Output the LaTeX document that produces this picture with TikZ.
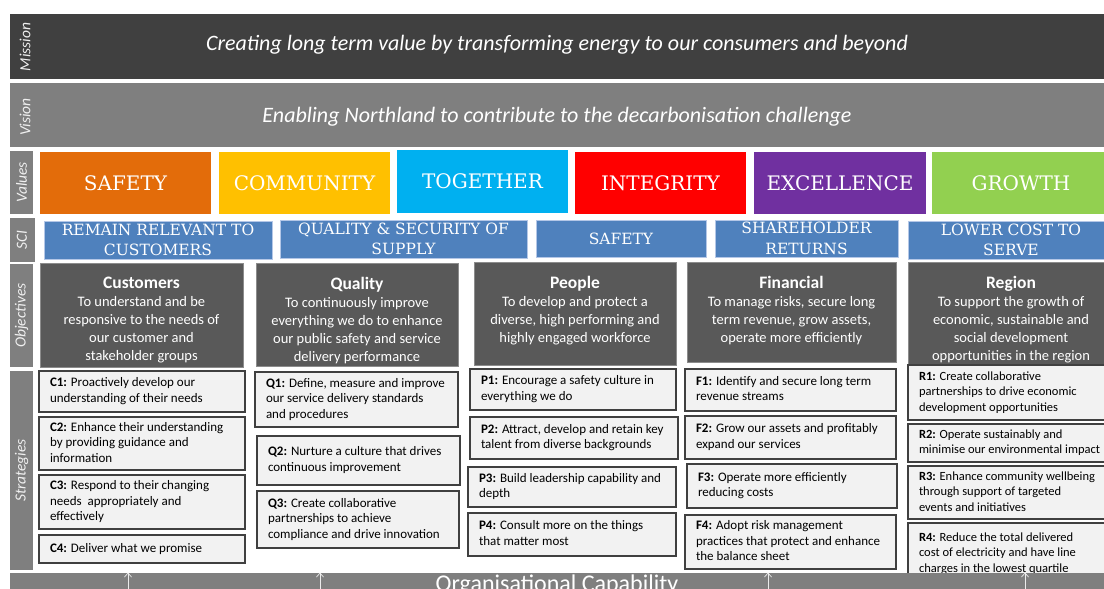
\documentclass[tikz,border=0pt]{standalone}
\usepackage{fontspec}
\setmainfont{Carlito}
\newfontfamily\slabfont{DejaVu Serif}
\usetikzlibrary{arrows.meta}
\definecolor{missionc}{HTML}{404040}
\definecolor{visionc}{HTML}{7F7F7F}
\definecolor{lblc}{HTML}{7F7F7F}
\definecolor{vsafety}{HTML}{E36C0A}
\definecolor{vcommunity}{HTML}{FFC000}
\definecolor{vtogether}{HTML}{00B0F0}
\definecolor{vintegrity}{HTML}{FF0000}
\definecolor{vexcellence}{HTML}{7030A0}
\definecolor{vgrowth}{HTML}{92D050}
\definecolor{scic}{HTML}{4F81BD}
\definecolor{scib}{HTML}{B4C7E7}
\definecolor{objc}{HTML}{595959}
\definecolor{objb}{HTML}{8C8C8C}
\definecolor{stratfill}{HTML}{F2F2F2}
\definecolor{stratline}{HTML}{404040}
\tikzset{
  boxnw/.style={anchor=north west, inner sep=0pt, outer sep=0pt},
  band/.style={boxnw, text=white, font=\fontsize{22}{26}\selectfont\itshape},
  lblbox/.style={boxnw, fill=lblc},
  lbltext/.style={rotate=90, text=white!88!gray, inner sep=0pt, font=\fontsize{15.5}{17}\selectfont\itshape},
  valbox/.style={boxnw, text=white, font=\slabfont\fontsize{20}{24}\selectfont},
  scibox/.style={boxnw, fill=scic, draw=scib, line width=1pt, text=white, align=center, font=\slabfont\fontsize{15.5}{20.5}\selectfont},
  objbox/.style={boxnw, fill=objc, draw=objb, line width=0.8pt, text=white},
  stratbox/.style={boxnw, fill=stratfill, draw=stratline, line width=1.3pt, inner xsep=11pt, inner ysep=0pt, font=\fontsize{13}{15.5}\selectfont},
  upar/.style={draw=white!85!gray, line width=0.7pt, -{Straight Barb[length=4pt,width=7pt]}}
}
\newcommand\valnode[7]{\node[valbox, fill=#6, minimum width=#4, minimum height=#5] (#1) at (#2,#3) {#7};}
\newcommand\scinode[6]{\node[scibox, minimum width=#4, minimum height=#5] (#1) at (#2,#3) {#6};}
\newcommand\objnode[7]{\node[objbox, minimum width=#4, minimum height=#5] (#1) at (#2,#3)
  {\parbox[c][#5pt][t]{\dimexpr#4pt-6pt\relax}{\centering\fontsize{14.5}{18}\selectfont\vspace*{14.5pt}{\bfseries\fontsize{17.5}{18}\selectfont #6}\\#7\par}};}
\newcommand\stratnode[6]{\node[stratbox, minimum width=#4, minimum height=#5] (#1) at (#2,#3)
  {\parbox{\dimexpr#4pt-22pt\relax}{\begin{tabular}{@{}l@{}}#6\end{tabular}}};}
\newcommand\stratnodeR[6]{\node[stratbox, minimum width=#4, minimum height=#5] (#1) at (#2,#3)
  {\parbox{\dimexpr#4pt-22pt\relax}{\fontsize{12.5}{15.5}\selectfont\begin{tabular}{@{}l@{}}#6\end{tabular}}};}
\begin{document}
\begin{tikzpicture}[x=1pt,y=-1pt]
\useasboundingbox (0,0) rectangle (1104,589);
\clip (0,0) rectangle (1104,589);
\fill[white] (0,0) rectangle (1104,589);
% mission and vision bands
\node[band, fill=missionc, minimum width=1094, minimum height=65, text depth=8pt] (mission) at (10,14) {Creating long term value by transforming energy to our consumers and beyond};
\node[band, fill=visionc, minimum width=1094, minimum height=64, text depth=0pt] (vision) at (10,83) {Enabling Northland to contribute to the decarbonisation challenge};
\node[lbltext] (lmission) at (25,47) {Mission};
\node[lbltext] (lvision) at (25,117) {Vision};
% label boxes
\node[lblbox, minimum width=23, minimum height=63] (bvalues) at (10,151) {};
\node[lbltext] (lvalues) at (21.5,182.5) {Values};
\node[lblbox, minimum width=25, minimum height=44] (bsci) at (10,218) {};
\node[lbltext] (lsci) at (22,240) {SCI};
\node[lblbox, minimum width=23, minimum height=103] (bobj) at (10,264) {};
\node[lbltext] (lobj) at (21.5,315.5) {Objectives};
\node[lblbox, minimum width=23, minimum height=199] (bstrat) at (10,371) {};
\node[lbltext] (lstrat) at (21.5,470.5) {Strategies};
% values
\valnode{safety}{40}{152}{171}{62}{vsafety}{SAFETY}
\valnode{community}{219}{152}{171}{62}{vcommunity}{COMMUNITY}
\valnode{together}{397}{150}{171}{63}{vtogether}{TOGETHER}
\valnode{integrity}{575}{152}{171}{62}{vintegrity}{INTEGRITY}
\valnode{excellence}{754}{152}{172}{62}{vexcellence}{EXCELLENCE}
\valnode{growth}{932}{152}{178}{62}{vgrowth}{GROWTH}
% SCI
\scinode{relevant}{44}{221}{228}{38}{REMAIN RELEVANT TO\\CUSTOMERS}
\scinode{quality}{280}{220}{247}{38}{QUALITY \& SECURITY OF\\SUPPLY}
\scinode{scisafety}{536}{220}{170}{37}{SAFETY}
\scinode{returns}{715}{220}{183}{37}{SHAREHOLDER\\RETURNS}
\scinode{lowcost}{908}{221}{206}{38}{LOWER COST TO\\SERVE}
% objectives
\objnode{ocust}{40}{263}{203}{104}{Customers}{To understand and be\\responsive to the needs of\\our customer and\\stakeholder groups}
\objnode{oqual}{256}{263}{202}{103}{Quality}{To continuously improve\\everything we do to enhance\\our public safety and service\\delivery performance}
\objnode{opeop}{474}{262}{202}{103}{People}{To develop and protect a\\diverse, high performing and\\highly engaged workforce}
\objnode{ofin}{687}{262}{209}{100}{Financial}{To manage risks, secure long\\term revenue, grow assets,\\operate more efficiently}
\objnode{oreg}{908}{262}{206}{103}{Region}{To support the growth of\\economic, sustainable and\\social development\\opportunities in the region}
% strategies
\stratnode{c1}{39}{371}{206}{41}{\textbf{C1:} Proactively develop our\\understanding of their needs}
\stratnode{c2}{39}{417}{206}{53}{\textbf{C2:} Enhance their understanding\\by providing guidance and\\information}
\stratnode{c3}{39}{475}{206}{54}{\textbf{C3:} Respond to their changing\\needs\ \ appropriately and\\effectively}
\stratnode{c4}{39}{535}{206}{28}{\textbf{C4:} Deliver what we promise}
\stratnode{q1}{255}{372}{203}{55}{\textbf{Q1:} Define, measure and improve\\our service delivery standards\\and procedures}
\stratnode{q2}{257}{436}{203}{49}{\textbf{Q2:} Nurture a culture that drives\\continuous improvement}
\stratnode{q3}{257}{491}{202}{57}{\textbf{Q3:} Create collaborative\\partnerships to achieve\\compliance and drive innovation}
\stratnode{p1}{470}{369}{206}{41}{\textbf{P1:} Encourage a safety culture in\\everything we do}
\stratnode{p2}{470}{417}{208}{42}{\textbf{P2:} Attract, develop and retain key\\talent from diverse backgrounds}
\stratnode{p3}{468}{467}{208}{40}{\textbf{P3:} Build leadership capability and\\depth}
\stratnode{p4}{468}{513}{208}{43}{\textbf{P4:} Consult more on the things\\that matter most}
\stratnode{f1}{685}{369}{211}{42}{\textbf{F1:} Identify and secure long term\\revenue streams}
\stratnode{f2}{685}{416}{211}{43}{\textbf{F2:} Grow our assets and profitably\\expand our services}
\stratnode{f3}{687}{464}{210}{44}{\textbf{F3:} Operate more efficiently\\reducing costs}
\stratnode{f4}{685}{515}{211}{54}{\textbf{F4:} Adopt risk management\\practices that protect and enhance\\the balance sheet}
\stratnodeR{r1}{908}{365}{210}{55}{\textbf{R1:} Create collaborative\\partnerships to drive economic\\development opportunities}
\stratnodeR{r2}{908}{424}{210}{38}{\textbf{R2:} Operate sustainably and\\minimise our environmental impact}
\stratnodeR{r3}{908}{466}{210}{53}{\textbf{R3:} Enhance community wellbeing\\through support of targeted\\events and initiatives}
\stratnodeR{r4}{908}{523}{210}{61}{\textbf{R4:} Reduce the total delivered\\cost of electricity and have line\\charges in the lowest quartile}
% organisational capability bar
\node[boxnw, fill=lblc, minimum width=1094, minimum height=24, text=white, text depth=4pt, font=\fontsize{24}{26}\selectfont] (orgcap) at (10,573) {Organisational Capability};
\foreach \i/\xx in {1/128,2/320,3/768,4/1025}{
  \coordinate (as\i) at (\xx,590);
  \coordinate (ae\i) at (\xx,572.5);
  \draw[upar] (as\i) -- (ae\i);
}
\end{tikzpicture}
\end{document}
